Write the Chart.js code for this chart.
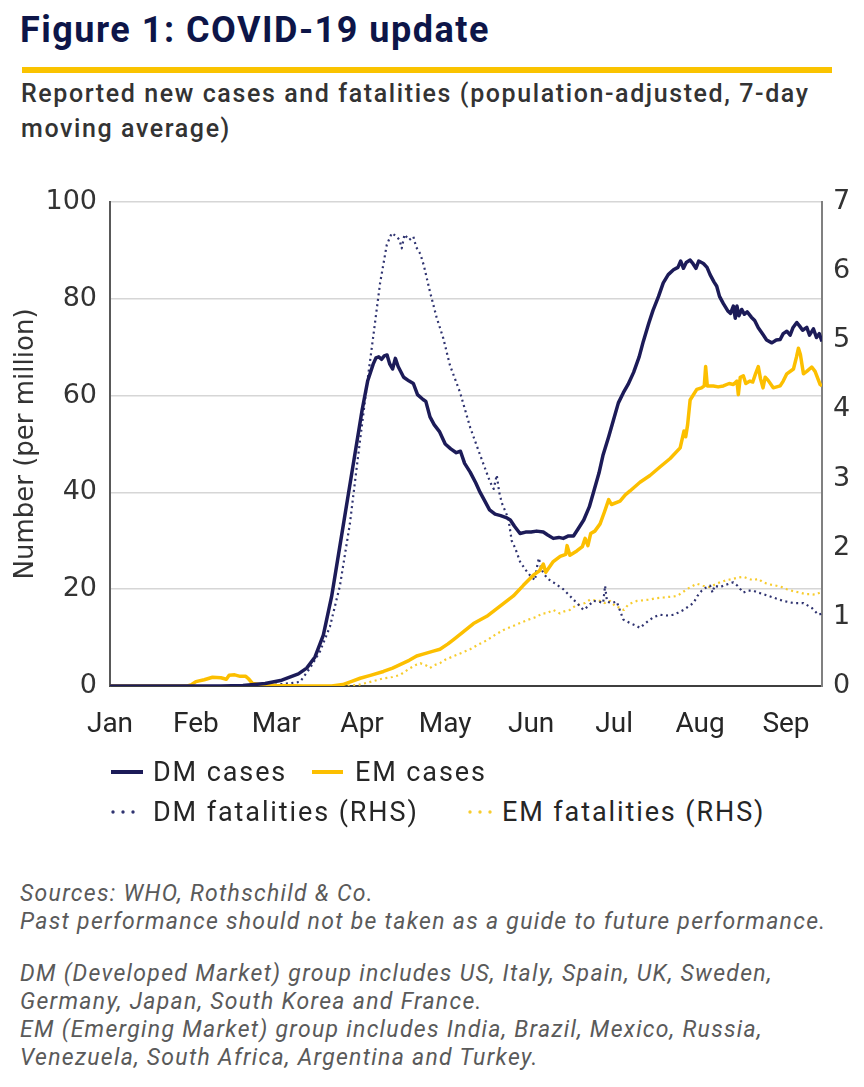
<!DOCTYPE html>
<html><head><meta charset="utf-8">
<script src="https://cdn.jsdelivr.net/npm/chart.js@4.4.1/dist/chart.umd.min.js"></script>
<style>
html,body{margin:0;padding:0;background:#fff;}
#page{position:relative;width:864px;height:1087px;overflow:hidden;font-family:Roboto,"Liberation Sans",sans-serif;}
.abs{position:absolute;white-space:nowrap;}
#title{left:20px;top:10px;font-size:36px;line-height:40px;font-weight:700;letter-spacing:1.5px;color:#0d1548;}
#rule{left:22px;top:67px;width:810px;height:6px;background:#fac300;}
#subtitle{left:21px;top:76px;font-size:25px;line-height:35px;font-weight:500;letter-spacing:1.6px;color:#333;}
#chartbox{left:0;top:170px;width:864px;height:590px;}
.legtext{position:absolute;font-size:27px;line-height:34px;letter-spacing:1.9px;color:#262626;white-space:nowrap;}
.sw{position:absolute;}
.foot{left:20px;font-size:23px;line-height:28.3px;font-style:italic;letter-spacing:1.3px;color:#5a5a5a;}
</style></head>
<body>
<div id="page">
  <div id="title" class="abs">Figure 1: COVID-19 update</div>
  <div id="rule" class="abs"></div>
  <div id="subtitle" class="abs">Reported new cases and fatalities (population-adjusted, 7-day<br>moving average)</div>
  <div id="chartbox" class="abs"><canvas id="c" width="864" height="590"></canvas></div>
  <div id="legend"></div>
  <div class="abs foot" style="top:879.6px;">Sources: WHO, Rothschild &amp; Co.<br>Past performance should not be taken as a guide to future performance.</div>
  <div class="abs foot" style="top:959.6px;">DM (Developed Market) group includes US, Italy, Spain, UK, Sweden,<br>Germany, Japan, South Korea and France.<br>EM (Emerging Market) group includes India, Brazil, Mexico, Russia,<br>Venezuela, South Africa, Argentina and Turkey.</div>
</div>
<script>
// ---- data (day of year 2020, Jan 1 = 0) ----
const monthLabels = ['Jan','Feb','Mar','Apr','May','Jun','Jul','Aug','Sep'];
const monthStartDay = [0,31,60,91,121,152,182,213,244];
const seriesNames = ['DM cases','EM cases','DM fatalities (RHS)','EM fatalities (RHS)'];

const dmCasesDay = [0,20,40,48,56,62,68,71,74,77,80,83,86,89,91,93,95,96,97,98,99,100,101,102,103,104,106,108,109.5,111,113,114,115.5,117,119,121,123,125,126.5,128,130,132,133.6,135.5,137,139,141,143,144.5,146,148,150,152,154,156.4,158,160,162,163.6,165.5,167.3,169,171,173,174.5,176.5,178,180,181.7,183.5,185.3,187,189,191,192.5,194.5,196,198,199.7,201.5,203.4,205,206,207,208,209.4,210.5,211.5,212.5,214.2,215.5,216.6,218,219,220,221.4,223,224,225,225.7,226.3,227,228,229,230,231.5,232.7,234,235.7,237,238.9,240.5,241.9,243,244.3,245.5,246.5,247.9,249,250,251.5,252.5,253.9,255,256,257];
const dmCasesVal = [0,0,0,0.1,0.5,1.2,2.5,3.7,6,10.5,18.5,29,39.5,50,57,63,66.5,67.8,68,67.5,68.2,68.4,66.5,65.5,67.7,66,63.8,63,62.5,60.2,59.2,58.8,55.6,54,52.5,50,49,48.2,48.5,46,44.2,42,40,38,36.4,35.5,35.2,34.8,34.3,33,31.5,31.8,31.8,32,31.8,31.2,30.5,30.7,30.5,31,31,32.5,34.3,37,40,44,47.8,51.5,54.9,58.5,60.6,62.3,64.8,68,71.2,75,77.6,80.5,83.3,85,86,86.5,87.8,86.3,87.5,88,87.2,86.3,87.8,87.3,86.5,85,83.5,82.6,80.5,79,77.5,77,78.5,76,78.5,76.5,77.8,76.8,77.3,76.2,75.5,74,72.6,71.5,70.9,71.5,71.6,72.8,73.3,72.5,74,75.1,74.3,73.5,74.1,72.5,73.8,72,72.8,71.2];

const emCasesDay = [0,28,29.5,31,34,37,40,42,43,45,47,49,50,51.5,54,60,70,80,84,87,90.3,94,98.7,102,104.7,108,110.7,113,116.7,119.1,122,124,127.5,131.2,136,140.8,145.6,149.2,152.8,155,156.4,157.3,160,162.5,164.5,165,166,168.5,170.5,171.5,172.5,173.5,175,176.9,178.5,180,181,184.1,186,187.7,191.3,194.9,198.6,202.2,205.8,207.2,207.8,208.5,209.4,211.8,213.5,214.5,215,215.6,217.8,219.5,221.4,223.5,225,226.3,226.8,227.5,228.6,229.5,231,232,233,234,234.8,235.7,236.5,237.5,239.4,241.9,243,244.3,246.7,247.8,248.5,249.2,250.3,251.5,253.3,254.5,256.3,257];
const emCasesVal = [0,0,0.3,0.9,1.3,1.8,1.7,1.4,2.2,2.3,2.0,2.0,1.5,0.5,0.3,0.1,0,0,0.3,0.9,1.6,2.2,3,3.7,4.4,5.3,6.2,6.6,7.2,7.6,8.7,9.6,11.2,12.9,14.4,16.5,18.6,20.8,22.9,23.8,25.2,23.5,25.7,26.8,27.2,29,27,27.9,28.8,30.5,29,31.5,32,33.5,36,38.5,37.5,38.2,39.5,40.3,42.1,43.5,45.3,47,49.2,52.7,51.5,54,59.1,61.3,61.6,62,66,62,62,61.8,62,62.5,62.3,63,60.2,63.8,64.1,62.5,63,62.8,64.5,66,63.5,61.6,63.8,63.2,61.6,62,63,64.5,65.5,68,69.8,68.5,64.5,65,65.9,65,62.3,62];

const dmDeathsDay = [0,55,60,65,68.6,72.2,75.8,79.4,83,86.6,89.6,92.7,95.1,97.5,99.9,101.7,103.5,104.5,105.3,106.3,108,109.5,110.5,112,113.3,115.5,117.9,120.3,122.7,126.4,130,133.6,137.2,138.5,139.6,140.5,141.4,143.8,145,146.2,148,150,151.6,153.4,154,154.8,155.6,156.5,158,160,163.6,167.3,170.9,172.5,174.5,176.5,178,178.7,179.4,181,182.9,184,185.3,187.7,189.5,191.3,193,194.9,196.5,198.6,201,203.4,205,207,208.8,210.6,212,213.6,215,216.6,217.5,218.2,220.2,222,225,226.5,228.6,230.5,232.2,234,235.7,239.4,243,246.7,250.3,253.3,255.7,257];
const dmDeathsVal = [0,0,0.02,0.04,0.06,0.26,0.5,0.86,1.45,2.35,3.34,4.34,5.08,5.83,6.38,6.55,6.5,6.45,6.33,6.53,6.45,6.5,6.35,6.25,6.08,5.7,5.33,5.03,4.64,4.24,3.74,3.34,2.95,2.85,3.05,2.8,2.65,2.42,2.1,2.0,1.8,1.68,1.6,1.53,1.7,1.85,1.7,1.63,1.55,1.5,1.4,1.25,1.1,1.15,1.23,1.22,1.2,1.45,1.22,1.2,1.22,1.1,0.96,0.91,0.88,0.84,0.9,0.96,1.0,1.03,1.02,1.03,1.06,1.1,1.15,1.2,1.3,1.38,1.42,1.45,1.35,1.45,1.43,1.46,1.5,1.45,1.35,1.38,1.38,1.35,1.33,1.28,1.23,1.2,1.2,1.13,1.03,1.05];

const emDeathsDay = [60,85,90,94,98.7,102,104.7,108,110.7,112,114,115.5,117,119.1,121,123.9,127,129.9,133,136,139,142,145,148,151,154,156,157.6,160,162.4,164,166,168,169.7,171.5,173.3,175,176.9,178.5,180.5,182.5,184.1,185.5,187.1,190.1,192.5,194.9,197,199.7,202,204.6,206.5,208.2,210,211.8,214,216.6,218.5,220.2,222.5,225,226.8,228.6,230.5,232.2,234,235.7,238,240.6,242.5,244.3,246.7,249.1,251,252.7,254.5,256.3,257];
const emDeathsVal = [0,0,0.02,0.06,0.11,0.13,0.16,0.25,0.31,0.33,0.3,0.26,0.3,0.33,0.38,0.43,0.48,0.53,0.6,0.66,0.74,0.81,0.86,0.91,0.96,1.0,1.05,1.05,1.1,1.05,1.08,1.1,1.16,1.18,1.2,1.25,1.24,1.23,1.2,1.23,1.15,1.13,1.1,1.18,1.23,1.24,1.25,1.27,1.28,1.29,1.3,1.35,1.4,1.44,1.48,1.45,1.43,1.47,1.5,1.53,1.55,1.57,1.58,1.55,1.53,1.55,1.5,1.47,1.45,1.43,1.4,1.37,1.35,1.33,1.33,1.32,1.35,1.33];

// ---- styles ----
const NAVY = '#1c1b58', GOLD = '#fcbf00', NAVY_DOT = '#2f3370', GOLD_DOT = '#f7cc2e';
function pts(xs, ys) { return xs.map((x, i) => ({x: x, y: ys[i]})); }

const datasets = [
  {label: seriesNames[0], data: pts(dmCasesDay, dmCasesVal), yAxisID: 'y', borderColor: NAVY, borderWidth: 3.5, dotted: false},
  {label: seriesNames[1], data: pts(emCasesDay, emCasesVal), yAxisID: 'y', borderColor: GOLD, borderWidth: 3.5, dotted: false},
  {label: seriesNames[2], data: pts(dmDeathsDay, dmDeathsVal), yAxisID: 'y1', borderColor: NAVY_DOT, borderWidth: 2.2, borderDash: [2, 3.5], dotted: true},
  {label: seriesNames[3], data: pts(emDeathsDay, emDeathsVal), yAxisID: 'y1', borderColor: GOLD_DOT, borderWidth: 2.2, borderDash: [2, 3.5], dotted: true}
].map(d => Object.assign({pointRadius: 0, tension: 0, borderJoinStyle: 'round', borderCapStyle: 'butt', fill: false}, d));

const tickFont = {family: 'DejaVu Sans', size: 27};

new Chart(document.getElementById('c'), {
  type: 'line',
  data: {datasets: datasets},
  options: {
    responsive: false,
    animation: false,
    layout: {padding: {top: 32, left: 0, right: 0, bottom: 0}},
    plugins: {legend: {display: false}, tooltip: {enabled: false}},
    scales: {
      x: {
        type: 'linear', min: 0, max: 257, position: 'bottom',
        grid: {display: false, drawTicks: false},
        border: {display: true, color: '#3f3f3f', width: 2},
        afterBuildTicks: (s) => { s.ticks = monthStartDay.map(v => ({value: v})); },
        ticks: {
          autoSkip: false, maxRotation: 0, minRotation: 0, padding: 22, color: '#262626',
          font: {family: 'Roboto', size: 28},
          callback: (v) => { const i = monthStartDay.indexOf(v); return i >= 0 ? monthLabels[i] : ''; }
        },
        afterFit: (s) => { s.height = 74; }
      },
      y: {
        position: 'left', min: 0, max: 100,
        ticks: {stepSize: 20, padding: 13, color: '#333', font: tickFont},
        grid: {color: '#d6d6d6', lineWidth: 1.5, drawTicks: false},
        border: {display: true, color: '#595959', width: 2},
        title: {display: true, text: 'Number (per million)', color: '#333', font: {family: 'DejaVu Sans', size: 26}, padding: {top: 11, bottom: 0}},
        afterFit: (s) => { s.width = 110; }
      },
      y1: {
        position: 'right', min: 0, max: 7,
        ticks: {stepSize: 1, padding: 11, color: '#333', font: tickFont},
        grid: {display: false, drawTicks: false},
        border: {display: true, color: '#808080', width: 2},
        afterFit: (s) => { s.width = 42; }
      }
    }
  }
});

// ---- legend (built from the datasets) ----
const legendPos = [
  {sx: 111, sw: 32, tx: 153, cy: 772},
  {sx: 312, sw: 31, tx: 355, cy: 772},
  {sx: 111, sw: 26, tx: 153, cy: 812},
  {sx: 468, sw: 26, tx: 502, cy: 812}
];
const leg = document.getElementById('legend');
datasets.forEach((d, i) => {
  const p = legendPos[i];
  let sw;
  if (d.dotted) {
    sw = document.createElementNS('http://www.w3.org/2000/svg', 'svg');
    sw.setAttribute('width', p.sw); sw.setAttribute('height', 6);
    [2, 12, 22].forEach(cx => {
      const c = document.createElementNS('http://www.w3.org/2000/svg', 'circle');
      c.setAttribute('cx', cx); c.setAttribute('cy', 3); c.setAttribute('r', 1.7);
      c.setAttribute('fill', d.borderColor); sw.appendChild(c);
    });
    sw.style.cssText = 'position:absolute;left:' + p.sx + 'px;top:' + (p.cy - 3) + 'px;';
  } else {
    sw = document.createElement('div');
    sw.style.cssText = 'position:absolute;left:' + p.sx + 'px;top:' + (p.cy - 1.75) + 'px;width:' + p.sw + 'px;height:3.5px;background:' + d.borderColor + ';';
  }
  leg.appendChild(sw);
  const t = document.createElement('div');
  t.className = 'legtext';
  t.style.left = p.tx + 'px';
  t.style.top = (p.cy - 17) + 'px';
  t.textContent = d.label;
  leg.appendChild(t);
});
</script>
</body></html>
